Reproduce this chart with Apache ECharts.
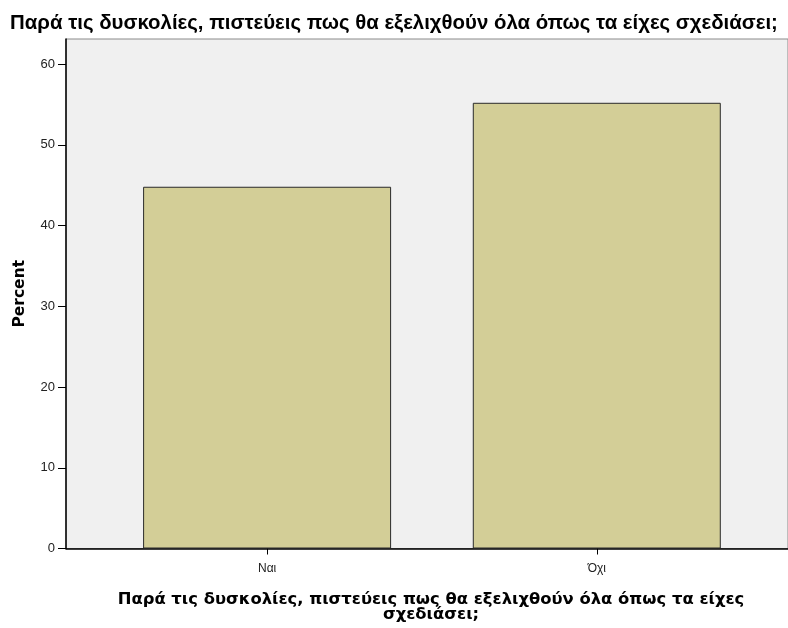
<!DOCTYPE html>
<html><head><meta charset="utf-8">
<script src="https://cdn.jsdelivr.net/npm/echarts@6/dist/echarts.min.js"></script>
<style>html,body{margin:0;padding:0;background:#fff}#c{width:788px;height:628px}</style>
</head><body><div id="c"></div>
<script>
const categories = ['Ναι', 'Όχι'];
const percentValues = [44.8, 55.2];
const yTickValues = [0, 10, 20, 30, 40, 50, 60];
const titleText = 'Παρά τις δυσκολίες, πιστεύεις πως θα εξελιχθούν όλα όπως τα είχες σχεδιάσει;';
const xTitle = 'Παρά τις δυσκολίες, πιστεύεις πως θα εξελιχθούν όλα όπως τα είχες\nσχεδιάσει;';
const yTitle = 'Percent';

const positions = categories.map((c, i) => i + 1);
const chart = echarts.init(document.getElementById('c'), null, {renderer: 'canvas'});
chart.setOption({
  animation: false,
  backgroundColor: '#ffffff',
  title: {
    text: titleText, left: 'center', top: 8,
    textStyle: {fontFamily: 'Liberation Sans, Arial', fontWeight: 'bold', fontSize: 20.4, color: '#000'}
  },
  grid: {left: 66, right: 0, top: 39, bottom: 78, show: true, backgroundColor: '#f0f0f0', borderColor: '#8a8a8a', borderWidth: 1},
  xAxis: {
    type: 'value', min: 0.39, max: 2.58,
    splitLine: {show: false},
    axisLine: {show: true, onZero: false, lineStyle: {color: '#000', width: 1.5}},
    axisTick: {show: true, length: 6, lineStyle: {color: '#000'}, customValues: positions},
    axisLabel: {customValues: positions, formatter: v => categories[Math.round(v) - 1] || '', fontFamily: 'Liberation Sans, Arial', fontSize: 12, color: '#222', margin: 14},
    name: xTitle, nameLocation: 'middle', nameGap: 44,
    nameTextStyle: {fontFamily: 'DejaVu Sans', fontWeight: 'bold', fontSize: 16.4, color: '#000', lineHeight: 15, padding: [0, 0, 0, 8]}
  },
  yAxis: {
    type: 'value', min: 0, max: 63.1,
    splitLine: {show: false},
    axisLine: {show: true, lineStyle: {color: '#000', width: 1.5}},
    axisTick: {show: true, length: 8, lineStyle: {color: '#000'}, customValues: yTickValues},
    axisLabel: {customValues: yTickValues, fontFamily: 'Liberation Sans, Arial', fontSize: 13, color: '#222', margin: 11},
    name: yTitle, nameLocation: 'middle', nameGap: 38, nameRotate: 90,
    nameTextStyle: {fontFamily: 'DejaVu Sans', fontWeight: 'bold', fontSize: 15.5, color: '#000'}
  },
  series: [{
    type: 'bar', barWidth: 248,
    data: positions.map((p, i) => [p, percentValues[i]]),
    itemStyle: {color: '#d3ce97', borderColor: '#2a2a2a', borderWidth: 1}
  }]
});
</script></body></html>
